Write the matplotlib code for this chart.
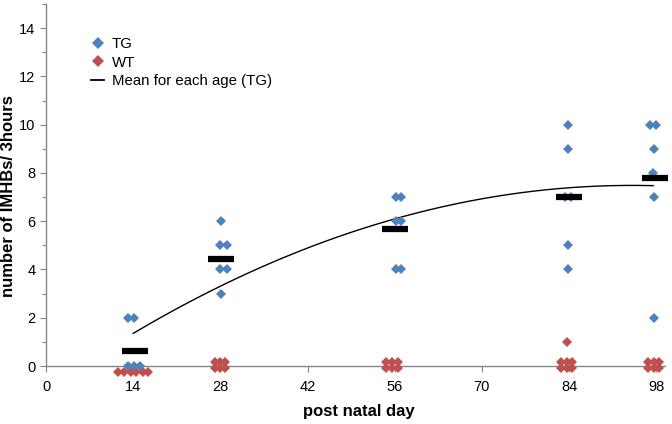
import numpy as np
import matplotlib
matplotlib.use("Agg")
import matplotlib.pyplot as plt
from matplotlib.lines import Line2D

plt.rcParams['font.family'] = ['Liberation Sans', 'DejaVu Sans']

# TG observations (day position as plotted, value)
tg_x = [13.2, 14.2, 13.2, 14.2, 15.1,
        28.1, 28.0, 29.1, 28.0, 29.1, 28.1,
        56.2, 57.0, 56.2, 57.0, 56.2, 57.0,
        83.8, 83.8, 83.4, 84.3, 83.8, 83.8,
        97.0, 98.0, 97.7, 97.5, 97.7, 97.7]
tg_y = [2, 2, 0, 0, 0,
        6, 5, 5, 4, 4, 3,
        7, 7, 6, 6, 4, 4,
        10, 9, 7, 7, 5, 4,
        10, 10, 9, 8, 7, 2]

# WT observations (as plotted, slightly stacked at zero)
wt_x = [11.6, 12.6, 13.6, 14.5, 15.5, 16.4,
        27.2, 28.0, 28.8, 27.2, 28.0, 28.8,
        54.6, 55.6, 56.6, 54.6, 55.6, 56.6,
        82.7, 83.6, 84.5, 82.7, 83.6, 84.5, 83.6,
        96.7, 97.6, 98.5, 96.7, 97.6, 98.5]
wt_y = [-0.23, -0.23, -0.23, -0.23, -0.23, -0.23,
        0.15, 0.15, 0.15, -0.1, -0.1, -0.1,
        0.15, 0.15, 0.15, -0.1, -0.1, -0.1,
        0.15, 0.15, 0.15, -0.1, -0.1, -0.1, 1.0,
        0.15, 0.15, 0.15, -0.1, -0.1, -0.1]

# Means for each age (TG)
mean_x = [14.3, 28.1, 56.0, 84.0, 97.8]
mean_y = [0.62, 4.42, 5.68, 7.02, 7.78]

# Trend line read at the tick days
trend_x = [14, 28, 42, 56, 70, 84, 97.5]
trend_y = [1.36, 3.31, 4.85, 6.12, 6.93, 7.40, 7.46]

xticks = [0, 14, 28, 42, 56, 70, 84, 98]
yticks = [0, 2, 4, 6, 8, 10, 12, 14]

blue = '#4F81BD'
red = '#C0504D'
grey = '#868686'

fig = plt.figure(figsize=(6.72, 4.24), dpi=100)
ax = fig.add_axes([46/672, 1-366/424, (665-46)/672, (366-4)/424])

# polynomial trend line (order 2) through the read points
coef = np.polyfit(trend_x, trend_y, 2)
xs = np.linspace(trend_x[0], trend_x[-1], 200)
ax.plot(xs, np.polyval(coef, xs), color='black', lw=1.0, zorder=2)

ax.plot(wt_x, wt_y, 'D', color=red, ms=4.6, mew=0, clip_on=False, zorder=3)
ax.plot(tg_x, tg_y, 'D', color=blue, ms=4.6, mew=0, clip_on=False, zorder=3)
ax.plot(mean_x, mean_y, '_', color='black', ms=18.5, mew=4.5, clip_on=False, zorder=4)

ax.set_xlim(0, 99.4)
ax.set_ylim(0, 15)
ax.set_xticks(xticks)
ax.set_yticks(yticks)
ax.set_yticks(range(0, 16), minor=True)
ax.tick_params(axis='both', labelsize=10.5, colors=grey, labelcolor='black', length=4, width=0.8)
ax.tick_params(axis='y', which='minor', colors=grey, length=3, width=0.8)
ax.tick_params(axis='x', pad=6)
for s in ['top', 'right']:
    ax.spines[s].set_visible(False)
for s in ['left', 'bottom']:
    ax.spines[s].set_color(grey)
    ax.spines[s].set_linewidth(1.0)

ax.set_xlabel('post natal day', fontsize=12, fontweight='bold')
ax.set_ylabel('number of IMHBs/ 3hours', fontsize=12, fontweight='bold')
ax.xaxis.set_label_coords(0.505, -0.104)
ax.yaxis.set_label_coords(-0.049, 0.47)

handles = [Line2D([], [], ls='none', marker='D', color=blue, ms=6, mew=0),
           Line2D([], [], ls='none', marker='D', color=red, ms=6, mew=0),
           Line2D([], [], color='black', lw=1.3)]
ax.legend(handles, ['TG', 'WT', 'Mean for each age (TG)'], loc='upper left',
          bbox_to_anchor=(0.063, 0.925), frameon=False, fontsize=10.8,
          handlelength=0.9, handletextpad=0.5, labelspacing=0.3, borderaxespad=0)

fig.savefig('out.png', dpi=100)
